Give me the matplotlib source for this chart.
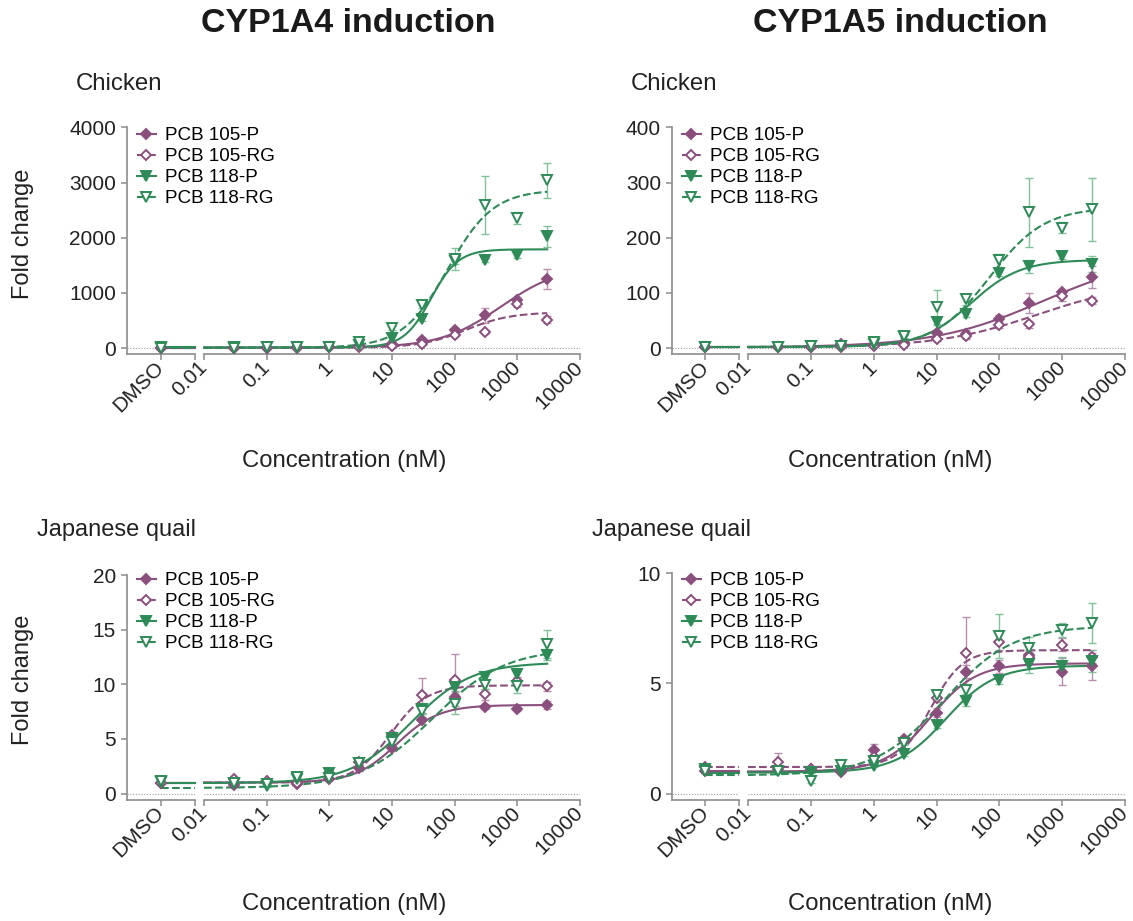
import numpy as np
import matplotlib
matplotlib.use("Agg")
import matplotlib.pyplot as plt
from matplotlib.lines import Line2D

plt.rcParams['font.family'] = ['Liberation Sans', 'DejaVu Sans']

# x categories: DMSO first, then the nominal concentrations (nM)
doses = [0.03, 0.1, 0.3, 1, 3, 10, 30, 100, 300, 1000, 3000]
x_ticks = [0.01, 0.1, 1, 10, 100, 1000, 10000]
x_tick_labels = ["0.01", "0.1", "1", "10", "100", "1000", "10000"]
series_labels = ["PCB 105-P", "PCB 105-RG", "PCB 118-P", "PCB 118-RG"]

# CYP1A4 chicken  (DMSO, 0.03 ... 3000)
a4_chk_105p = [5, 5, 8, 10, 12, 30, 80, 150, 320, 590, 876, 1250]
a4_chk_105p_err = [5, 5, 5, 5, 5, 10, 20, 30, 40, 130, 50, 180]
a4_chk_105rg = [5, 5, 5, 8, 10, 15, 40, 72, 242, 290, 798, 514]
a4_chk_105rg_err = [5, 5, 5, 5, 5, 10, 15, 20, 30, 40, 60, 60]
a4_chk_118p = [10, 15, 20, 20, 15, 60, 181, 532, 1583, 1600, 1686, 2024]
a4_chk_118p_err = [5, 5, 5, 5, 5, 20, 40, 50, 60, 40, 50, 190]
a4_chk_118rg = [5, 5, 10, 10, 10, 100, 362, 773, 1613, 2598, 2357, 3039]
a4_chk_118rg_err = [5, 5, 5, 5, 5, 30, 40, 50, 200, 530, 110, 320]
# fit parameters: bottom, top, EC50 (nM), hill slope
a4_chk_fits = [[5, 1500, 550, 0.9], [5, 650, 150, 1.2],
               [10, 1790, 42, 2.0], [5, 2870, 78, 1.2]]

# CYP1A5 chicken
a5_chk_105p = [1, 1, 1, 7, 6, 9, 27, 25, 53, 82, 101, 129]
a5_chk_105p_err = [1, 1, 1, 2, 2, 2, 4, 8, 6, 18, 5, 20]
a5_chk_105rg = [1, 1, 1, 2, 4, 6, 16, 22, 42, 43, 94, 86]
a5_chk_105rg_err = [1, 1, 1, 1, 1, 2, 3, 4, 5, 6, 8, 6]
a5_chk_118p = [1, 2, 3, 4, 8, 20, 48, 62, 136, 148, 167, 152]
a5_chk_118p_err = [1, 1, 1, 1, 2, 3, 5, 5, 6, 12, 5, 15]
a5_chk_118rg = [1, 2, 3, 4, 10, 21, 74, 88, 159, 246, 218, 252]
a5_chk_118rg_err = [1, 1, 1, 1, 2, 3, 32, 10, 12, 62, 10, 57]
a5_chk_fits = [[1, 170, 500, 0.5], [1, 120, 400, 0.55],
               [2, 160, 35, 1.1], [2, 255, 70, 1.0]]

# CYP1A4 Japanese quail
a4_qua_105p = [1.0, 0.8, 1.06, 0.9, 1.3, 2.3, 4.15, 6.7, 8.86, 7.95, 7.73, 8.1]
a4_qua_105p_err = [0.1, 0.1, 0.1, 0.1, 0.1, 0.2, 0.3, 0.3, 0.5, 0.2, 0.2, 0.4]
a4_qua_105rg = [1.0, 1.3, 1.1, 1.0, 1.9, 2.9, 5.35, 9.0, 10.4, 9.1, 10.3, 9.8]
a4_qua_105rg_err = [0.1, 0.2, 0.1, 0.1, 0.2, 0.2, 0.3, 1.6, 2.4, 0.5, 0.4, 0.4]
a4_qua_118p = [1.06, 1.0, 0.66, 1.3, 1.9, 2.8, 5.1, 7.7, 9.75, 10.66, 10.9, 12.7]
a4_qua_118p_err = [0.1, 0.1, 0.1, 0.1, 0.2, 0.2, 0.3, 0.4, 0.5, 0.3, 0.6, 0.5]
a4_qua_118rg = [1.1, 1.0, 0.9, 1.5, 1.4, 2.8, 4.7, 7.55, 8.2, 9.9, 9.8, 13.7]
a4_qua_118rg_err = [0.1, 0.1, 0.1, 0.1, 0.1, 0.2, 0.3, 0.3, 0.9, 0.3, 0.6, 1.3]
a4_qua_fits = [[1.0, 8.1, 12, 1.3], [1.0, 9.9, 9.5, 1.5],
               [0.95, 12.0, 20, 0.9], [0.5, 13.3, 45, 0.75]]

# CYP1A5 Japanese quail
a5_qua_105p = [1.0, 1.09, 1.12, 0.98, 1.96, 2.45, 3.66, 5.53, 5.76, 6.3, 5.53, 5.76]
a5_qua_105p_err = [0.05, 0.1, 0.1, 0.05, 0.3, 0.1, 0.2, 0.3, 0.3, 0.4, 0.6, 0.6]
a5_qua_105rg = [1.2, 1.42, 1.1, 1.05, 1.66, 2.37, 4.34, 6.39, 6.89, 6.21, 6.74, 6.21]
a5_qua_105rg_err = [0.05, 0.4, 0.1, 0.05, 0.1, 0.1, 0.2, 1.6, 0.4, 0.3, 0.3, 0.3]
a5_qua_118p = [1.09, 1.0, 0.97, 1.0, 1.24, 1.77, 3.09, 4.18, 5.16, 5.88, 5.8, 5.99]
a5_qua_118p_err = [0.05, 0.05, 0.05, 0.05, 0.05, 0.05, 0.1, 0.2, 0.2, 0.4, 0.4, 0.5]
a5_qua_118rg = [1.0, 1.0, 0.56, 1.28, 1.47, 2.3, 4.48, 4.7, 7.15, 6.59, 7.42, 7.72]
a5_qua_118rg_err = [0.05, 0.05, 0.1, 0.1, 0.1, 0.1, 0.2, 0.2, 1.0, 0.5, 0.3, 0.9]
a5_qua_fits = [[1.0, 5.9, 8, 1.2], [1.2, 6.5, 8, 1.7],
               [0.95, 5.8, 14, 1.1], [0.82, 7.6, 13, 0.8]]

purple = "#8a4f7c"
green = "#2e8b57"
purple_light = "#b98fae"
green_light = "#82c29b"
spine_col = "#8c8c8c"
text_col = "#222222"

styles = [
    dict(color=purple, ecolor=purple_light, marker="D", mfc=purple, ls="-", ms=5.5),
    dict(color=purple, ecolor=purple_light, marker="D", mfc="white", ls="--", ms=5.5),
    dict(color=green, ecolor=green_light, marker="v", mfc=green, ls="-", ms=7.5),
    dict(color=green, ecolor=green_light, marker="v", mfc="white", ls="--", ms=7.5),
]

W, H = 1133, 921
fig = plt.figure(figsize=(W / 100, H / 100), dpi=100)


def fig_box(x0, x1, ytop, ybot):
    return [x0 / W, 1 - ybot / H, (x1 - x0) / W, (ybot - ytop) / H]


def logistic(x, p):
    bottom, top, ec50, hill = p
    return bottom + (top - bottom) / (1 + (ec50 / x) ** hill)


def draw_panel(px, ytop, ybot, ymax, yticks, vals, errs, fits, legend_xy):
    # px = (left spine, break end, main start, main end) in pixels
    ax_d = fig.add_axes(fig_box(px[0], px[1], ytop, ybot))
    ax_m = fig.add_axes(fig_box(px[2], px[3], ytop, ybot))
    ymin = -ymax * 6.0 / (ybot - ytop - 6.0)

    for i in range(4):
        st = styles[i]
        y = vals[i]
        e = errs[i]
        p = fits[i]
        # DMSO part
        ax_d.plot([0, 1], [p[0], p[0]], color=st["color"], ls=st["ls"], lw=1.5,
                  clip_on=False, zorder=3)
        ax_d.errorbar([0], [y[0]], yerr=[e[0]], fmt="none", ecolor=st["ecolor"],
                      elinewidth=1, capsize=3, zorder=2)
        ax_d.plot([0], [y[0]], ls="none", marker=st["marker"], color=st["color"],
                  mfc=st["mfc"], mew=1.4, ms=st["ms"], zorder=4, clip_on=False)
        # concentration part
        xc = np.logspace(np.log10(0.01), np.log10(3000), 300)
        ax_m.plot(xc, logistic(xc, p), color=st["color"], ls=st["ls"], lw=1.5,
                  zorder=3, clip_on=False)
        ax_m.errorbar(doses, y[1:], yerr=e[1:], fmt="none", ecolor=st["ecolor"],
                      elinewidth=1, capsize=3, zorder=2, clip_on=False)
        ax_m.plot(doses, y[1:], ls="none", marker=st["marker"], color=st["color"],
                  mfc=st["mfc"], mew=1.4, ms=st["ms"], zorder=4, clip_on=False)

    for ax in (ax_d, ax_m):
        ax.set_ylim(ymin, ymax)
        ax.axhline(0, color="#9a9a9a", lw=0.8, ls=(0, (1, 1.5)), zorder=1)
        ax.spines["top"].set_visible(False)
        ax.spines["right"].set_visible(False)
        ax.spines["bottom"].set_color(spine_col)
        ax.spines["left"].set_color(spine_col)
        ax.spines["bottom"].set_linewidth(1.2)
        ax.spines["left"].set_linewidth(1.2)
        ax.tick_params(colors=spine_col, labelcolor=text_col, length=4.5, width=1.1,
                       labelsize=15)
        ax.patch.set_alpha(0)

    ax_d.set_xlim(-1, 1)
    ax_d.set_xticks([0, 1])
    ax_d.set_xticklabels(["DMSO", ""], rotation=45, ha="right", va="center",
                         rotation_mode="anchor")
    ax_d.set_yticks(yticks)
    ax_d.set_yticklabels([str(t) for t in yticks])

    ax_m.set_xscale("log")
    ax_m.set_xlim(0.01, 10000)
    ax_m.set_xticks(x_ticks)
    ax_m.set_xticklabels(x_tick_labels, rotation=45, ha="right", va="center",
                         rotation_mode="anchor")
    ax_m.minorticks_off()
    ax_m.spines["left"].set_visible(False)
    ax_m.set_yticks([])
    for ax in (ax_d, ax_m):
        ax.tick_params(axis="x", pad=3)

    handles = []
    for i in range(4):
        st = styles[i]
        handles.append(Line2D([0], [0], color=st["color"], ls=st["ls"], lw=1.5,
                              marker=st["marker"], mfc=st["mfc"], mew=1.4,
                              ms=st["ms"] - 0.5, label=series_labels[i]))
    ax_d.legend(handles=handles, loc="upper left",
                bbox_to_anchor=(legend_xy[0] / W, 1 - legend_xy[1] / H),
                bbox_transform=fig.transFigure, frameon=False, fontsize=13.6,
                handlelength=1.0, handletextpad=0.5, labelspacing=0.2,
                borderaxespad=0, borderpad=0)
    return ax_d, ax_m


left_px = (127, 194.5, 204, 580)
right_px = (672, 739, 748, 1125)

draw_panel(left_px, 127.5, 354, 4000, [0, 1000, 2000, 3000, 4000],
           [a4_chk_105p, a4_chk_105rg, a4_chk_118p, a4_chk_118rg],
           [a4_chk_105p_err, a4_chk_105rg_err, a4_chk_118p_err, a4_chk_118rg_err],
           a4_chk_fits, (137, 127))
draw_panel(right_px, 127.5, 354, 400, [0, 100, 200, 300, 400],
           [a5_chk_105p, a5_chk_105rg, a5_chk_118p, a5_chk_118rg],
           [a5_chk_105p_err, a5_chk_105rg_err, a5_chk_118p_err, a5_chk_118rg_err],
           a5_chk_fits, (682, 127))
draw_panel(left_px, 575, 799.5, 20, [0, 5, 10, 15, 20],
           [a4_qua_105p, a4_qua_105rg, a4_qua_118p, a4_qua_118rg],
           [a4_qua_105p_err, a4_qua_105rg_err, a4_qua_118p_err, a4_qua_118rg_err],
           a4_qua_fits, (137, 572))
draw_panel(right_px, 573, 799.5, 10, [0, 5, 10],
           [a5_qua_105p, a5_qua_105rg, a5_qua_118p, a5_qua_118rg],
           [a5_qua_105p_err, a5_qua_105rg_err, a5_qua_118p_err, a5_qua_118rg_err],
           a5_qua_fits, (682, 572))

# titles and labels
fig.text(348 / W, 1 - 23 / H, "CYP1A4 induction", fontsize=24.5, fontweight="bold",
         ha="center", va="center", color="#1a1a1a")
fig.text(900 / W, 1 - 23 / H, "CYP1A5 induction", fontsize=24.5, fontweight="bold",
         ha="center", va="center", color="#1a1a1a")
fig.text(76 / W, 1 - 84 / H, "Chicken", fontsize=17.3, ha="left", va="center",
         color=text_col)
fig.text(631 / W, 1 - 84 / H, "Chicken", fontsize=17.3, ha="left", va="center",
         color=text_col)
fig.text(37 / W, 1 - 530 / H, "Japanese quail", fontsize=17, ha="left",
         va="center", color=text_col)
fig.text(592 / W, 1 - 530 / H, "Japanese quail", fontsize=17, ha="left",
         va="center", color=text_col)
fig.text(23 / W, 1 - 234 / H, "Fold change", fontsize=17, rotation=90,
         ha="center", va="center", color=text_col)
fig.text(23 / W, 1 - 680 / H, "Fold change", fontsize=17, rotation=90,
         ha="center", va="center", color=text_col)
for cx, cy in [(344, 461), (890, 461), (344, 904), (890, 904)]:
    fig.text(cx / W, 1 - cy / H, "Concentration (nM)", fontsize=17.2, ha="center",
             va="center", color=text_col)

fig.savefig("out.png", dpi=100)
